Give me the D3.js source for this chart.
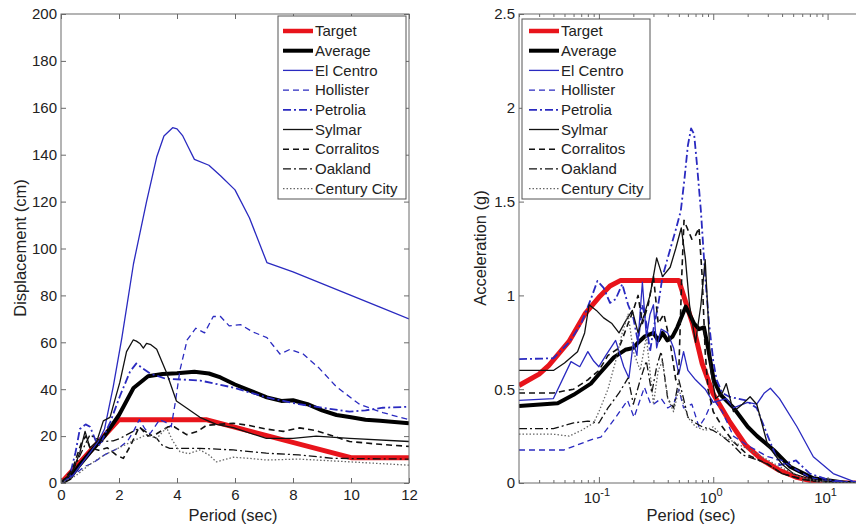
<!DOCTYPE html>
<html><head><meta charset="utf-8">
<script src="https://cdn.jsdelivr.net/npm/d3@7"></script>
<style>
html,body{margin:0;padding:0;background:#fff;}
text{font-family:"Liberation Sans",Arial,Helvetica,sans-serif;fill:#222;}
</style></head>
<body>
<svg id="chart" width="856" height="529"></svg>
<script>
// ---------- DATA ----------
const seriesNames = ["Target","Average","El Centro","Hollister","Petrolia","Sylmar","Corralitos","Oakland","Century City"];
const dispTicksX = [0,2,4,6,8,10,12];
const dispTicksY = [0,20,40,60,80,100,120,140,160,180,200];
const accTicksY = [0,0.5,1,1.5,2,2.5];
const accTickLabelsY = ["0","0.5","1","1.5","2","2.5"];
const accMajorX = [0.1,1,10];
const accMajorExp = ["-1","0","1"];

// Displacement spectra [period (s), displacement (cm)]
const dispTarget = [[0,0],[2,27],[5,27],[10,10.8],[12,10.8]];
const dispAverage = [[0,0],[0.3,2],[0.6,7],[1,13],[1.5,20],[2,29],[2.5,40.5],[3,45.5],[3.5,46.5],[4,46.8],[4.6,47.4],[5.1,46.7],[5.5,45],[6,42],[6.5,39.5],[7.1,36.5],[7.6,35],[8,35.3],[8.5,33.6],[9,31],[9.5,29],[10,28],[10.5,27],[11,26.5],[12,25.5]];
const dispElCentro = [[0,0],[0.4,3],[0.7,8],[1,13],[1.3,18],[1.5,23],[1.8,41],[2.1,62],[2.5,93.5],[2.95,120],[3.3,139],[3.55,148],[3.85,151.5],[4.0,151],[4.2,148],[4.4,143],[4.6,138],[5.1,135.5],[5.5,131],[6,125],[6.5,113],[7.1,94],[8,90],[9,85],[10,80],[11,75],[12,70]];
const dispHollister = [[0,0],[0.5,4],[0.8,7],[1.1,8.5],[1.5,12],[2,15],[2.3,18],[2.5,22],[2.7,27],[2.9,23],[3.07,21],[3.4,27],[3.6,26],[3.8,24],[3.95,35],[4.1,48],[4.35,61],[4.65,66],[4.95,64],[5.25,71],[5.5,71],[5.8,67],[6.2,67.5],[6.6,64.5],[7.1,62],[7.55,55],[7.9,57],[8.35,55],[8.9,49],[9.5,41],[10.3,33.5],[11.1,30],[12,27]];
const dispPetrolia = [[0,0],[0.3,3],[0.5,13],[0.65,23],[0.85,25],[1.0,24],[1.2,18],[1.35,16],[1.55,22],[1.7,26],[2.03,37],[2.38,47.5],[2.6,51],[2.8,49],[3.07,46.7],[3.6,44.5],[4.8,43.7],[5.9,40.8],[7.1,36.5],[8.2,33.6],[9.4,31.4],[9.95,30.4],[10.5,31],[11.1,32.1],[12,32.5]];
const dispSylmar = [[0,0],[0.4,5],[0.65,13],[0.83,22],[1.0,15],[1.23,17.6],[1.46,26.5],[1.69,28],[2.03,43],[2.26,56],[2.49,61],[2.6,60.5],[2.72,59.5],[2.84,57.5],[2.95,59.5],[3.1,59],[3.3,57],[3.64,47],[3.98,35],[4.33,32],[4.79,28],[5.36,25],[5.94,23.6],[7.08,19],[8,19],[8.8,20],[9.95,19],[12,17.7]];
const dispCorralitos = [[0,0],[0.4,6],[0.7,17],[0.85,20],[1.0,15],[1.3,14],[1.6,15],[1.9,12],[2.15,10.5],[2.4,16],[2.7,24],[3.0,20],[3.3,21],[3.7,24],[3.9,24],[4.33,20.6],[4.7,22],[5.02,24.6],[5.94,25.5],[6.5,24.5],[7.08,23],[7.66,22],[8.23,23.5],[8.8,22.3],[9.4,20],[9.95,17.7],[11,16.5],[12,15.6]];
const dispOakland = [[0,0],[0.4,5],[0.77,14.8],[1.0,20.6],[1.2,19],[1.46,17.7],[1.8,18],[2.03,19],[2.49,22],[2.72,23.6],[3.07,20.6],[3.3,19],[3.5,16],[3.75,14.8],[4.79,14.8],[5.94,14.1],[7.08,12.7],[8.2,12],[9.4,10.5],[12,10.2]];
const dispCentury = [[0,0],[0.5,3],[1,8],[1.5,12],[2,15],[2.5,18],[2.95,20.6],[3.3,19],[3.64,23.6],[3.85,18],[4.1,13.4],[4.4,12.5],[4.79,14.1],[5.1,12],[5.36,9],[5.94,11],[6.5,10.5],[7.08,9.8],[8.2,10.2],[9.4,9.4],[12,7.6]];

// Acceleration spectra [period (s), acceleration (g)]
const accTarget = [[0.02,0.52],[0.03,0.58],[0.0365,0.627],[0.0546,0.753],[0.0764,0.906],[0.1,0.99],[0.125,1.05],[0.155,1.08],[0.5,1.08],[0.658,0.852],[0.8,0.636],[1.0,0.474],[1.38,0.33],[1.93,0.2],[2.69,0.122],[3.78,0.068],[5.26,0.032],[7.4,0.01],[12,0],[20,0]];
const accAverage = [[0.02,0.41],[0.0436,0.425],[0.06,0.47],[0.085,0.53],[0.1,0.58],[0.135,0.67],[0.17,0.71],[0.2,0.72],[0.217,0.745],[0.25,0.78],[0.3,0.8],[0.33,0.76],[0.36,0.8],[0.397,0.76],[0.44,0.78],[0.485,0.83],[0.574,0.94],[0.62,0.9],[0.68,0.85],[0.75,0.82],[0.83,0.83],[0.9,0.72],[1.01,0.55],[1.16,0.47],[1.51,0.4],[2.0,0.3],[2.42,0.25],[3.37,0.176],[4.7,0.087],[7.5,0.025],[14.7,0],[20,0]];
const accElCentro = [[0.02,0.44],[0.04,0.45],[0.057,0.647],[0.068,0.62],[0.08,0.7],[0.09,0.65],[0.1,0.62],[0.115,0.68],[0.14,0.76],[0.165,0.62],[0.183,0.56],[0.2,0.75],[0.215,0.68],[0.24,1.07],[0.26,0.78],[0.28,0.9],[0.3,0.95],[0.32,0.72],[0.35,0.82],[0.4,0.8],[0.45,0.72],[0.5,0.58],[0.55,0.7],[0.6,0.6],[0.7,0.55],[0.85,0.5],[1.0,0.43],[1.3,0.45],[1.5,0.4],[2.0,0.43],[2.4,0.42],[2.8,0.48],[3.16,0.505],[3.8,0.45],[5.4,0.3],[7.5,0.14],[11.2,0.05],[16.6,0.01],[20,0]];
const accHollister = [[0.02,0.176],[0.0495,0.176],[0.085,0.23],[0.104,0.245],[0.135,0.336],[0.178,0.44],[0.203,0.35],[0.25,0.51],[0.284,0.42],[0.3,0.42],[0.35,0.45],[0.4,0.4],[0.45,0.42],[0.5,0.5],[0.55,0.4],[0.65,0.42],[0.75,0.3],[0.85,0.35],[1.0,0.45],[1.2,0.38],[1.5,0.25],[2.0,0.2],[3,0.14],[4,0.12],[5,0.08],[7,0.03],[10,0.01],[20,0]];
const accPetrolia = [[0.02,0.66],[0.04,0.665],[0.055,0.75],[0.07,0.85],[0.085,0.98],[0.097,1.077],[0.11,1.04],[0.125,0.96],[0.14,0.98],[0.16,1.06],[0.18,0.95],[0.2,0.88],[0.22,0.75],[0.24,0.95],[0.26,0.85],[0.28,0.7],[0.3,0.82],[0.33,0.95],[0.36,1.1],[0.4,1.2],[0.47,1.35],[0.52,1.45],[0.56,1.62],[0.6,1.8],[0.64,1.89],[0.68,1.86],[0.72,1.7],[0.78,1.45],[0.85,1.1],[0.92,0.85],[1.0,0.65],[1.07,0.55],[1.2,0.48],[1.38,0.46],[1.93,0.44],[2.4,0.4],[3.0,0.25],[3.8,0.095],[5.3,0.12],[7,0.05],[10.4,0.015],[20,0]];
const accSylmar = [[0.02,0.6],[0.04,0.6],[0.05,0.64],[0.065,0.7],[0.075,0.8],[0.082,0.95],[0.095,0.92],[0.11,0.88],[0.13,0.85],[0.15,0.8],[0.17,0.86],[0.196,0.92],[0.22,0.8],[0.25,0.9],[0.28,1.0],[0.32,1.2],[0.36,1.1],[0.42,1.15],[0.47,1.25],[0.525,1.36],[0.57,1.2],[0.62,0.95],[0.7,0.75],[0.78,0.95],[0.85,1.19],[0.9,0.9],[0.95,0.6],[1.05,0.45],[1.2,0.48],[1.3,0.53],[1.5,0.38],[1.8,0.42],[2.1,0.46],[2.4,0.42],[3.0,0.2],[4.0,0.1],[5,0.05],[7,0.02],[12,0],[20,0]];
const accCorralitos = [[0.02,0.48],[0.04,0.48],[0.06,0.5],[0.08,0.55],[0.1,0.6],[0.12,0.68],[0.15,0.72],[0.18,0.85],[0.2,0.92],[0.22,1.0],[0.24,0.85],[0.27,0.95],[0.3,1.1],[0.33,0.85],[0.37,0.9],[0.42,0.75],[0.47,0.55],[0.5,0.6],[0.53,1.1],[0.555,1.4],[0.6,1.35],[0.65,1.3],[0.7,1.32],[0.75,1.36],[0.8,1.1],[0.85,0.7],[0.9,0.5],[1.0,0.38],[1.2,0.3],[1.5,0.22],[2,0.15],[3,0.1],[4,0.05],[6,0.02],[10,0],[20,0]];
const accOakland = [[0.02,0.29],[0.04,0.29],[0.06,0.32],[0.08,0.33],[0.1,0.32],[0.12,0.4],[0.15,0.48],[0.18,0.56],[0.2,0.42],[0.23,0.55],[0.26,0.65],[0.29,0.48],[0.32,0.62],[0.35,0.7],[0.4,0.45],[0.45,0.4],[0.5,0.55],[0.55,0.45],[0.6,0.35],[0.7,0.32],[0.8,0.3],[1.0,0.28],[1.2,0.25],[1.5,0.2],[1.8,0.15],[2.5,0.12],[3,0.1],[4,0.05],[6,0.02],[10,0],[20,0]];
const accCentury = [[0.02,0.26],[0.04,0.26],[0.055,0.25],[0.07,0.28],[0.09,0.32],[0.1,0.38],[0.12,0.5],[0.14,0.65],[0.16,0.8],[0.18,0.9],[0.2,0.7],[0.23,0.6],[0.26,0.78],[0.3,0.42],[0.33,0.6],[0.36,0.65],[0.4,0.45],[0.45,0.38],[0.5,0.5],[0.55,0.42],[0.6,0.35],[0.7,0.3],[0.85,0.28],[1.0,0.3],[1.2,0.25],[1.5,0.22],[2.5,0.15],[4,0.08],[6,0.03],[10,0],[20,0]];

// ---------- STYLES ----------
const BLUE = "#2a2ac0";
const styles = [
  {color:"#e8141b", width:5, dash:null},
  {color:"#000", width:4, dash:null},
  {color:BLUE, width:1.3, dash:null},
  {color:BLUE, width:1.3, dash:"6,4"},
  {color:BLUE, width:1.8, dash:"8,3,2,3"},
  {color:"#111", width:1.3, dash:null},
  {color:"#111", width:1.6, dash:"6,4"},
  {color:"#111", width:1.3, dash:"8,3,2,3"},
  {color:"#666", width:1.3, dash:"1.5,2"}
];

const svg = d3.select("#chart");
const AX = "#6a6a6a";

function frame(g, x0, x1, y0, y1){
  g.append("rect").attr("x",x0).attr("y",y0).attr("width",x1-x0).attr("height",y1-y0)
    .attr("fill","none").attr("stroke",AX).attr("stroke-width",1);
}
function styleAxis(sel){
  sel.select(".domain").remove();
  sel.selectAll(".tick line").attr("stroke",AX);
  sel.selectAll("text").style("font-size","15px").attr("fill","#222");
}
function drawLegend(g, bx, by, bw, bh, lineX0){
  g.append("rect").attr("x",bx).attr("y",by).attr("width",bw).attr("height",bh)
    .attr("fill","#fff").attr("stroke","#555").attr("stroke-width",1);
  seriesNames.forEach((n,i)=>{
    const y = 31 + i*19.7;
    const s = styles[i];
    g.append("line").attr("x1",lineX0).attr("x2",lineX0+30).attr("y1",y).attr("y2",y)
      .attr("stroke",s.color).attr("stroke-width",Math.min(s.width,4.5)).attr("stroke-dasharray",s.dash);
    g.append("text").attr("x",lineX0+32).attr("y",y).attr("dy","0.35em")
      .style("font-size","15px").text(n);
  });
}

// ---------- LEFT PLOT ----------
{
  const x0=61,x1=409,y0=14,y1=483;
  const x = d3.scaleLinear().domain([0,12]).range([x0,x1]);
  const y = d3.scaleLinear().domain([0,200]).range([y1,y0]);
  const g = svg.append("g");
  g.append("clipPath").attr("id","clipL").append("rect").attr("x",x0).attr("y",y0).attr("width",x1-x0).attr("height",y1-y0);
  const line = d3.line().x(d=>x(d[0])).y(d=>y(d[1]));
  const data = [dispTarget,dispAverage,dispElCentro,dispHollister,dispPetrolia,dispSylmar,dispCorralitos,dispOakland,dispCentury];
  const lg = g.append("g").attr("clip-path","url(#clipL)");
  data.forEach((d,i)=>{
    const s=styles[i];
    lg.append("path").datum(d).attr("d",line).attr("fill","none")
      .attr("stroke",s.color).attr("stroke-width",s.width).attr("stroke-dasharray",s.dash)
      .attr("stroke-linejoin","round");
  });
  const bx = g.append("g").attr("transform",`translate(0,${y1})`)
    .call(d3.axisBottom(x).tickValues(dispTicksX).tickSizeInner(-5).tickSizeOuter(0).tickPadding(6).tickFormat(d3.format("d")));
  styleAxis(bx);
  const tx = g.append("g").attr("transform",`translate(0,${y0})`)
    .call(d3.axisTop(x).tickValues(dispTicksX).tickSizeInner(-5).tickSizeOuter(0).tickFormat(""));
  styleAxis(tx);
  const ly = g.append("g").attr("transform",`translate(${x0},0)`)
    .call(d3.axisLeft(y).tickValues(dispTicksY).tickSizeInner(-5).tickSizeOuter(0).tickPadding(4).tickFormat(d3.format("d")));
  styleAxis(ly);
  const ry = g.append("g").attr("transform",`translate(${x1},0)`)
    .call(d3.axisRight(y).tickValues(dispTicksY).tickSizeInner(-5).tickSizeOuter(0).tickFormat(""));
  styleAxis(ry);
  frame(g,x0,x1,y0,y1);
  g.append("text").attr("x",(x0+x1)/2-2).attr("y",521).attr("text-anchor","middle").style("font-size","16.5px").text("Period (sec)");
  g.append("text").attr("transform","translate(26,248) rotate(-90)").attr("text-anchor","middle").style("font-size","16.5px").text("Displacement (cm)");
  drawLegend(g, 278, 16, 128, 183, 283);
}

// ---------- RIGHT PLOT ----------
{
  const x0=519,x1=862,y0=14,y1=483;
  const x = d3.scaleLog().domain([0.02,20]).range([x0,x1]);
  const y = d3.scaleLinear().domain([0,2.5]).range([y1,y0]);
  const g = svg.append("g");
  g.append("clipPath").attr("id","clipR").append("rect").attr("x",x0).attr("y",y0).attr("width",x1-x0).attr("height",y1-y0);
  const line = d3.line().x(d=>x(d[0])).y(d=>y(d[1]));
  const data = [accTarget,accAverage,accElCentro,accHollister,accPetrolia,accSylmar,accCorralitos,accOakland,accCentury];
  const lg = g.append("g").attr("clip-path","url(#clipR)");
  data.forEach((d,i)=>{
    const s=styles[i];
    lg.append("path").datum(d).attr("d",line).attr("fill","none")
      .attr("stroke",s.color).attr("stroke-width",s.width).attr("stroke-dasharray",s.dash)
      .attr("stroke-linejoin","round");
  });
  const minor = x.ticks().filter(v=>accMajorX.indexOf(v)<0 && v>=0.02 && v<=20);
  [[y1,d3.axisBottom],[y0,d3.axisTop]].forEach(([yy,ax])=>{
    const a1 = g.append("g").attr("transform",`translate(0,${yy})`)
      .call(ax(x).tickValues(accMajorX).tickSizeInner(-6).tickSizeOuter(0).tickFormat(""));
    styleAxis(a1);
    const a2 = g.append("g").attr("transform",`translate(0,${yy})`)
      .call(ax(x).tickValues(minor).tickSizeInner(-3).tickSizeOuter(0).tickFormat(""));
    styleAxis(a2);
  });
  accMajorX.forEach((v,i)=>{
    const t = g.append("text").attr("x",x(v)-2).attr("y",503).attr("text-anchor","middle").style("font-size","15px");
    t.append("tspan").text("10");
    t.append("tspan").attr("dy","-7").style("font-size","11px").text(accMajorExp[i]);
  });
  const ly = g.append("g").attr("transform",`translate(${x0},0)`)
    .call(d3.axisLeft(y).tickValues(accTicksY).tickSizeInner(-5).tickSizeOuter(0).tickPadding(4).tickFormat((d,i)=>accTickLabelsY[i]));
  styleAxis(ly);
  frame(g,x0,x1,y0,y1);
  g.append("text").attr("x",691).attr("y",521).attr("text-anchor","middle").style("font-size","16.5px").text("Period (sec)");
  g.append("text").attr("transform","translate(486,248) rotate(-90)").attr("text-anchor","middle").style("font-size","16.5px").text("Acceleration (g)");
  drawLegend(g, 522, 19, 128, 180, 529);
}
</script>
</body></html>
